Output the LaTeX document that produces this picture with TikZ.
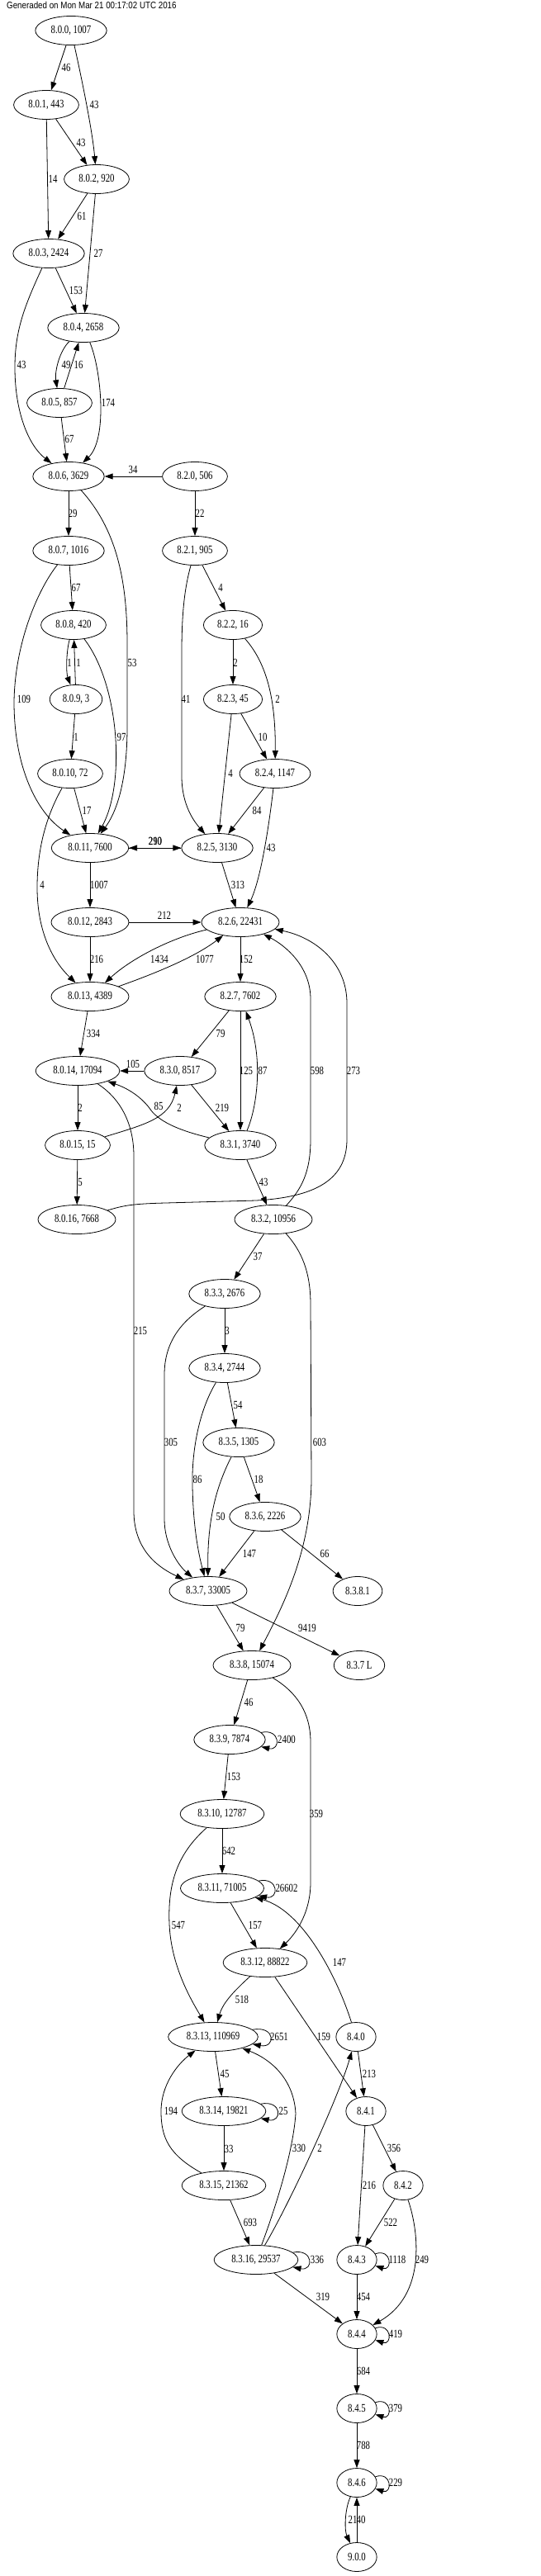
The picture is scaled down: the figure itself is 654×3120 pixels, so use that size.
\documentclass[tikz,border=0pt]{standalone}
\usepackage{fontspec}
\usetikzlibrary{arrows.meta,shapes.geometric}
\newfontfamily\gvfont[FakeStretch=0.77]{Liberation Serif}
\newfontfamily\hdfont[FakeStretch=0.85]{Liberation Sans}

\begin{document}
\begin{tikzpicture}[x=1pt,y=-1pt,
  font=\gvfont\fontsize{14pt}{16pt}\selectfont,
  n/.style={draw,ellipse,line width=0.8pt,inner xsep=6.3pt,inner ysep=2pt,minimum height=35pt},
  e/.style={-{Triangle[length=10pt,width=7pt]},line width=0.8pt},
  lab/.style={inner sep=0pt},
  hd/.style={font=\hdfont\fontsize{11.5pt}{13pt}\selectfont,anchor=west,inner sep=0pt}]
  \useasboundingbox (0,0) rectangle (654,3120);
  \node[hd] (hd) at (8,6) {Generaded on Mon Mar 21 00:17:02 UTC 2016};
  \node[n] (a0) at (86,37) {8.0.0, 1007};
  \node[n] (a1) at (56,127) {8.0.1, 443};
  \node[n] (a2) at (117,217) {8.0.2, 920};
  \node[n] (a3) at (59,307) {8.0.3, 2424};
  \node[n] (a4) at (101,397) {8.0.4, 2658};
  \node[n] (a5) at (72,488) {8.0.5, 857};
  \node[n] (a6) at (83,577) {8.0.6, 3629};
  \node[n] (a7) at (83,667) {8.0.7, 1016};
  \node[n] (a8) at (89,757) {8.0.8, 420};
  \node[n] (a9) at (92,847) {8.0.9, 3};
  \node[n] (a10) at (85,937) {8.0.10, 72};
  \node[n] (a11) at (109,1027) {8.0.11, 7600};
  \node[n] (a12) at (109,1117) {8.0.12, 2843};
  \node[n] (a13) at (109,1207) {8.0.13, 4389};
  \node[n] (a14) at (94,1297) {8.0.14, 17094};
  \node[n] (a15) at (94,1387) {8.0.15, 15};
  \node[n] (a16) at (93,1477) {8.0.16, 7668};
  \node[n] (b0) at (236,577) {8.2.0, 506};
  \node[n] (b1) at (236,667) {8.2.1, 905};
  \node[n] (b2) at (282,757) {8.2.2, 16};
  \node[n] (b3) at (282,847) {8.2.3, 45};
  \node[n] (b4) at (333,937) {8.2.4, 1147};
  \node[n] (b5) at (263,1027) {8.2.5, 3130};
  \node[n] (b6) at (291,1117) {8.2.6, 22431};
  \node[n] (b7) at (291,1207) {8.2.7, 7602};
  \node[n] (c0) at (218,1297) {8.3.0, 8517};
  \node[n] (c1) at (291,1387) {8.3.1, 3740};
  \node[n] (c2) at (331,1477) {8.3.2, 10956};
  \node[n] (c3) at (272,1567) {8.3.3, 2676};
  \node[n] (c4) at (272,1657) {8.3.4, 2744};
  \node[n] (c5) at (289,1747) {8.3.5, 1305};
  \node[n] (c6) at (321,1837) {8.3.6, 2226};
  \node[n] (c7) at (252,1927) {8.3.7, 33005};
  \node[n] (c81) at (433,1927) {8.3.8.1};
  \node[n] (c8) at (305,2017) {8.3.8, 15074};
  \node[n] (cL) at (435,2017) {8.3.7 L};
  \node[n] (c9) at (278,2107) {8.3.9, 7874};
  \node[n] (c10) at (269,2197) {8.3.10, 12787};
  \node[n] (c11) at (269,2287) {8.3.11, 71005};
  \node[n] (c12) at (321,2377) {8.3.12, 88822};
  \node[n] (c13) at (258,2467) {8.3.13, 110969};
  \node[n] (d0) at (431,2467) {8.4.0};
  \node[n] (c14) at (271,2557) {8.3.14, 19821};
  \node[n] (d1) at (443,2557) {8.4.1};
  \node[n] (c15) at (271,2647) {8.3.15, 21362};
  \node[n] (d2) at (488,2647) {8.4.2};
  \node[n] (c16) at (310,2737) {8.3.16, 29537};
  \node[n] (d3) at (432,2737) {8.4.3};
  \node[n] (d4) at (432,2827) {8.4.4};
  \node[n] (d5) at (432,2917) {8.4.5};
  \node[n] (d6) at (432,3007) {8.4.6};
  \node[n] (e0) at (432,3097) {9.0.0};

  \draw[e] (a0) -- (a1) node[lab] at (80,82) {46};
  \draw[e] (a0) .. controls (100,100) and (112,160) .. (a2) node[lab] at (114,127) {43};
  \draw[e] (a1) -- (a2) node[lab] at (98,173) {43};
  \draw[e] (a1) -- (a3) node[lab] at (64,217) {14};
  \draw[e] (a2) -- (a3) node[lab] at (99,262) {61};
  \draw[e] (a2) -- (a4) node[lab] at (119,307) {27};
  \draw[e] (a3) -- (a4) node[lab] at (92,352) {153};
  \draw[e] (a3) .. controls (30,370) and (18,400) .. (18,445) .. controls (18,500) and (35,540) .. (a6) node[lab] at (26,442) {43};
  \draw[e] (a4) .. controls (72,425) and (66,450) .. (a5) node[lab] at (80,442) {49};
  \draw[e] (a5) -- (a4) node[lab] at (95,442) {16};
  \draw[e] (a4) .. controls (122,445) and (131,531) .. (a6) node[lab] at (131,488) {174};
  \draw[e] (a5) -- (a6) node[lab] at (84,532) {67};
  \draw[e] (b0) -- (a6) node[lab] at (161,569) {34};
  \draw[e] (b0) -- (b1) node[lab] at (242,622) {22};
  \draw[e] (a6) -- (a7) node[lab] at (88,622) {29};
  \draw[e] (a6) .. controls (140,640) and (154,700) .. (154,780) -- (154,880) .. controls (154,950) and (140,985) .. (a11) node[lab] at (160,803) {53};
  \draw[e] (a7) -- (a8) node[lab] at (92,712) {67};
  \draw[e] (a7) .. controls (45,715) and (18,780) .. (17,850) .. controls (17,930) and (45,985) .. (a11) node[lab] at (29,847) {109};
  \draw[e] (a8) .. controls (80,790) and (80,815) .. (a9) node[lab] at (84,803) {1};
  \draw[e] (a9) -- (a8) node[lab] at (95,803) {1};
  \draw[e] (a8) .. controls (145,830) and (152,950) .. (a11) node[lab] at (147,893) {97};
  \draw[e] (a9) -- (a10) node[lab] at (92,893) {1};
  \draw[e] (a10) -- (a11) node[lab] at (105,982) {17};
  \draw[e] (a10) .. controls (55,990) and (45,1030) .. (45,1075) .. controls (45,1130) and (65,1165) .. (a13) node[lab] at (51,1072) {4};
  \draw[e] (a11) -- (b5) node[lab] at (188,1019) {290};
  \draw[e] (b5) -- (a11) node[lab] at (188,1019) {210};
  \draw[e] (b1) -- (b2) node[lab] at (267,712) {4};
  \draw[e] (b1) .. controls (224,710) and (220,740) .. (220,790) -- (220,940) .. controls (220,975) and (235,995) .. (b5) node[lab] at (225,847) {41};
  \draw[e] (b2) -- (b3) node[lab] at (285,803) {2};
  \draw[e] (b2) .. controls (320,800) and (334,840) .. (b4) node[lab] at (336,847) {2};
  \draw[e] (b3) -- (b4) node[lab] at (318,893) {10};
  \draw[e] (b3) -- (b5) node[lab] at (279,937) {4};
  \draw[e] (b4) -- (b5) node[lab] at (311,982) {84};
  \draw[e] (b4) .. controls (328,980) and (318,1060) .. (b6) node[lab] at (328,1027) {43};
  \draw[e] (b5) -- (b6) node[lab] at (288,1072) {313};
  \draw[e] (a11) -- (a12) node[lab] at (120,1072) {1007};
  \draw[e] (a12) -- (b6) node[lab] at (199,1109) {212};
  \draw[e] (a12) -- (a13) node[lab] at (117,1162) {216};
  \draw[e] (b6) .. controls (210,1135) and (160,1160) .. (a13) node[lab] at (193,1162) {1434};
  \draw[e] (a13) .. controls (185,1180) and (235,1160) .. (b6) node[lab] at (248,1162) {1077};
  \draw[e] (b6) -- (b7) node[lab] at (298,1162) {152};
  \draw[e] (a13) -- (a14) node[lab] at (113,1252) {334};
  \draw[e] (b7) -- (c0) node[lab] at (267,1252) {79};
  \draw[e] (b7) -- (c1) node[lab] at (298,1297) {125};
  \draw[e] (c1) .. controls (310,1345) and (320,1285) .. (b7) node[lab] at (318,1297) {87};
  \draw[e] (c2) .. controls (365,1440) and (376,1420) .. (376,1380) -- (376,1210) .. controls (376,1170) and (345,1145) .. (b6) node[lab] at (384,1297) {598};
  \draw[e] (a16) .. controls (150,1460) and (160,1458) .. (200,1457) -- (310,1454) .. controls (380,1450) and (420,1430) .. (420,1380) -- (420,1215) .. controls (420,1165) and (380,1135) .. (b6) node[lab] at (428,1297) {273};
  \draw[e] (c0) -- (a14) node[lab] at (161,1289) {105};
  \draw[e] (a14) -- (a15) node[lab] at (97,1342) {2};
  \draw[e] (a15) .. controls (175,1362) and (205,1355) .. (c0) node[lab] at (217,1342) {2};
  \draw[e] (c1) .. controls (220,1370) and (195,1360) .. (183,1345) .. controls (175,1333) and (160,1320) .. (a14) node[lab] at (192,1340) {85};
  \draw[e] (c0) -- (c1) node[lab] at (269,1342) {219};
  \draw[e] (a14) .. controls (145,1330) and (162,1360) .. (162,1400) -- (162,1830) .. controls (162,1880) and (195,1900) .. (c7) node[lab] at (170,1612) {215};
  \draw[e] (a15) -- (a16) node[lab] at (97,1432) {5};
  \draw[e] (c1) -- (c2) node[lab] at (319,1432) {43};
  \draw[e] (c2) -- (c3) node[lab] at (312,1522) {37};
  \draw[e] (c2) .. controls (365,1515) and (376,1540) .. (376,1580) -- (377,1790) .. controls (377,1880) and (340,1950) .. (c8) node[lab] at (387,1747) {603};
  \draw[e] (c3) -- (c4) node[lab] at (275,1612) {3};
  \draw[e] (c3) .. controls (220,1600) and (199,1625) .. (199,1665) -- (199,1840) .. controls (199,1870) and (215,1895) .. (c7) node[lab] at (207,1747) {305};
  \draw[e] (c4) -- (c5) node[lab] at (288,1702) {54};
  \draw[e] (c4) .. controls (240,1710) and (232,1760) .. (233,1800) .. controls (234,1850) and (240,1880) .. (c7) node[lab] at (239,1792) {86};
  \draw[e] (c5) -- (c6) node[lab] at (313,1792) {18};
  \draw[e] (c5) .. controls (262,1800) and (251,1840) .. (c7) node[lab] at (267,1837) {50};
  \draw[e] (c6) -- (c7) node[lab] at (302,1882) {147};
  \draw[e] (c6) -- (c81) node[lab] at (393,1882) {66};
  \draw[e] (c7) -- (c8) node[lab] at (291,1972) {79};
  \draw[e] (c7) -- (cL) node[lab] at (372,1972) {9419};
  \draw[e] (c8) -- (c9) node[lab] at (301,2062) {46};
  \draw[e] (c8) .. controls (360,2050) and (376,2075) .. (376,2110) -- (376,2280) .. controls (376,2320) and (355,2345) .. (c12) node[lab] at (383,2197) {359};
  \draw[e] (c9) .. controls (340,2093) and (340,2121) .. (c9) node[lab] at (347,2107) {2400};
  \draw[e] (c9) -- (c10) node[lab] at (283,2152) {153};
  \draw[e] (c10) -- (c11) node[lab] at (277,2242) {642};
  \draw[e] (c10) .. controls (215,2245) and (203,2280) .. (205,2330) .. controls (207,2380) and (230,2420) .. (c13) node[lab] at (216,2332) {547};
  \draw[e] (c11) .. controls (338,2273) and (338,2301) .. (c11) node[lab] at (347,2287) {26602};
  \draw[e] (c11) -- (c12) node[lab] at (309,2332) {157};
  \draw[e] (d0) .. controls (410,2400) and (369,2315) .. (c11) node[lab] at (411,2377) {147};
  \draw[e] (c12) .. controls (285,2410) and (270,2425) .. (c13) node[lab] at (293,2422) {518};
  \draw[e] (c12) -- (d1) node[lab] at (392,2467) {159};
  \draw[e] (c13) .. controls (334,2453) and (334,2481) .. (c13) node[lab] at (338,2467) {2651};
  \draw[e] (c13) -- (c14) node[lab] at (272,2512) {45};
  \draw[e] (d0) -- (d1) node[lab] at (447,2512) {213};
  \draw[e] (c14) .. controls (342,2543) and (342,2571) .. (c14) node[lab] at (343,2557) {25};
  \draw[e] (c14) -- (c15) node[lab] at (277,2603) {33};
  \draw[e] (c15) .. controls (205,2610) and (195,2590) .. (195,2557) .. controls (195,2525) and (215,2500) .. (c13) node[lab] at (207,2557) {194};
  \draw[e] (c16) .. controls (335,2670) and (355,2605) .. (358,2560) .. controls (356,2520) and (330,2495) .. (c13) node[lab] at (362,2602) {330};
  \draw[e] (c16) .. controls (350,2670) and (410,2540) .. (d0) node[lab] at (387,2602) {2};
  \draw[e] (d1) -- (d2) node[lab] at (477,2602) {356};
  \draw[e] (d1) -- (d3) node[lab] at (447,2647) {216};
  \draw[e] (c15) -- (c16) node[lab] at (303,2692) {693};
  \draw[e] (d2) -- (d3) node[lab] at (473,2692) {522};
  \draw[e] (d2) .. controls (508,2705) and (515,2780) .. (d4) node[lab] at (511,2737) {249};
  \draw[e] (c16) .. controls (380,2723) and (380,2751) .. (c16) node[lab] at (384,2737) {336};
  \draw[e] (d3) .. controls (475,2723) and (475,2751) .. (d3) node[lab] at (481,2737) {1118};
  \draw[e] (c16) -- (d4) node[lab] at (391,2782) {319};
  \draw[e] (d3) -- (d4) node[lab] at (440,2782) {454};
  \draw[e] (d4) .. controls (475,2813) and (475,2841) .. (d4) node[lab] at (479,2827) {419};
  \draw[e] (d4) -- (d5) node[lab] at (440,2872) {684};
  \draw[e] (d5) .. controls (475,2903) and (475,2931) .. (d5) node[lab] at (479,2917) {379};
  \draw[e] (d5) -- (d6) node[lab] at (440,2962) {788};
  \draw[e] (d6) .. controls (475,2993) and (475,3021) .. (d6) node[lab] at (479,3007) {229};
  \draw[e] (d6) .. controls (417,3040) and (417,3065) .. (e0) node[lab] at (427,3052) {21};
  \draw[e] (e0) -- (d6) node[lab] at (437,3052) {40};
\end{tikzpicture}
\end{document}
